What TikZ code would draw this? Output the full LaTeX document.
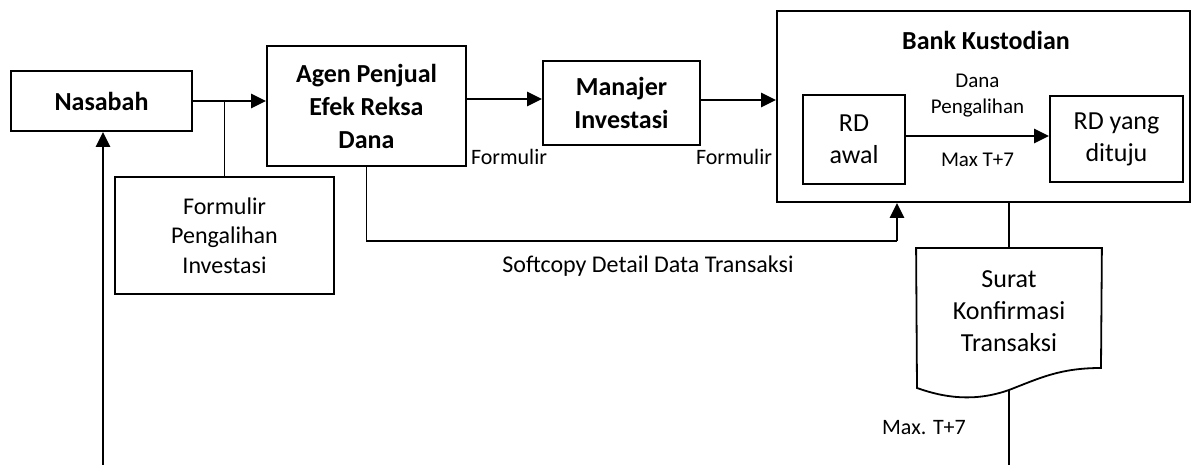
\documentclass[tikz,border=0pt]{standalone}
\usepackage{fontspec}
\setmainfont{Carlito}
\usetikzlibrary{arrows.meta}

\begin{document}
\begin{tikzpicture}[x=0.5pt, y=-0.5pt,
    box/.style={draw, line width=0.9pt, align=center, inner sep=0pt},
    head/.style={box, font=\fontsize{13}{16.5}\selectfont\bfseries},
    body/.style={box, font=\fontsize{13}{16}\selectfont},
    form/.style={box, font=\fontsize{12}{14.75}\selectfont},
    flow/.style={line width=1.4pt, -{Triangle[length=7.5pt,width=7pt]}},
    link/.style={line width=0.8pt},
    lbl/.style={inner sep=0pt, align=center, font=\fontsize{11}{13}\selectfont},
    small/.style={lbl, font=\fontsize{10.5}{13}\selectfont}]
\useasboundingbox (0,0) rectangle (1191,465);
\node[head, minimum width=90.5pt, minimum height=30pt] (nasabah) at (101.5,101) {Nasabah};
\node[head, minimum width=99.5pt, minimum height=60pt] (agen) at (366.5,106) {Agen Penjual\\Efek Reksa\\Dana};
\node[head, minimum width=78.5pt, minimum height=42pt] (manajer) at (621.5,103) {Manajer\\Investasi};
\node[box, minimum width=206.5pt, minimum height=95.5pt] (bank) at (983.5,106.5) {};
\node[lbl, font=\fontsize{13}{16}\selectfont\bfseries] (bankttl) at (986,40) {Bank Kustodian};
\node[body, minimum width=51pt, minimum height=44.5pt] (rdawal) at (854,139.5) {RD\\awal};
\node[body, minimum width=66.5pt, minimum height=43pt] (rdtuju) at (1116.5,139) {RD yang\\dituju};
\node[form, minimum width=109.5pt, minimum height=58.5pt] (formulir) at (224.5,235.5) {Formulir\\Pengalihan\\Investasi};
\node[body, draw=none, minimum width=92pt, minimum height=61pt] (surat) at (1009,311) {Surat\\Konfirmasi\\Transaksi};

\draw[flow] (nasabah.east) -- (nasabah.east -| agen.west);
\draw[link] (formulir.north |- nasabah.east) -- (formulir.north);
\draw[flow] ([yshift=3.5pt]agen.east) -- ([yshift=3.5pt]agen.east -| manajer.west);
\draw[flow] ([yshift=1.5pt]manajer.east) -- ([yshift=1.5pt]manajer.east -| bank.west);
\node[lbl] (form1) at (509,157) {Formulir};
\node[lbl] (form2) at (734,157) {Formulir};
\draw[flow] ([yshift=1.75pt]rdawal.east) -- ([yshift=1.75pt]rdawal.east -| rdtuju.west)
    node[small, midway, above=8.5pt] {Dana\\Pengalihan}
    node[small, midway, below=8pt] {Max T+7};

% softcopy ke bank kustodian
\coordinate (sccorner) at (897,241);
\draw[link] (agen.south) |- (sccorner);
\draw[flow] (sccorner) -- (sccorner |- bank.south);
\node[lbl, font=\fontsize{12}{14}\selectfont] (softcopy) at (648,266) {Softcopy Detail Data Transaksi};

% surat konfirmasi
\coordinate (wave) at (1009,390);
\draw[link] (surat.north |- bank.south) -- ([yshift=0.5pt]surat.north);
\draw[line width=0.9pt] ([yshift=0.5pt]surat.north west) -- ([yshift=0.5pt]surat.north east) -- (1101,368)
    .. controls (1060,368) and (1040,378) .. (wave)
    .. controls (975,402) and (945,398) .. (917,388) -- cycle;
\coordinate (suratout) at (1009,465);
\draw[link] (wave) -- (suratout);
\node[lbl] (maxt) at (924,428) {Max. T+7};

\coordinate (nasin) at (103,465);
\draw[flow] (nasin) -- (nasin |- nasabah.south);
\end{tikzpicture}
\end{document}
